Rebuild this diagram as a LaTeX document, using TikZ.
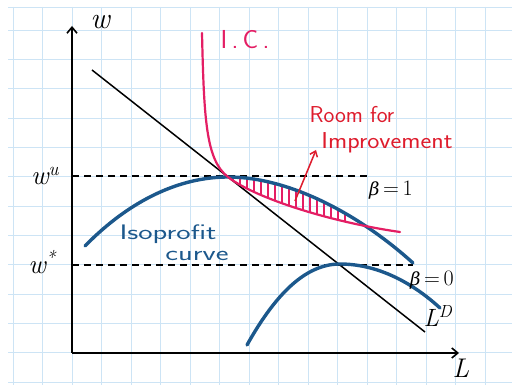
\documentclass[tikz,border=0pt]{standalone}
\usepackage{fontspec}
\newfontfamily\grk{DejaVu Serif}
\usetikzlibrary{arrows.meta}
\definecolor{gridblue}{RGB}{205,228,245}
\definecolor{isoblue}{RGB}{28,88,140}
\definecolor{icred}{RGB}{228,30,100}
\definecolor{txtred}{RGB}{222,28,45}
\tikzset{
  axis/.style={line width=1.6pt, -{Straight Barb[length=6pt,width=10pt]}},
  iso/.style={isoblue, line width=3.4pt, line cap=round},
  icurve/.style={icred, line width=2.2pt, line cap=round},
  dashline/.style={dash pattern=on 7pt off 5pt, line width=1.1pt},
  biglbl/.style={font=\itshape\fontsize{30}{32}\selectfont, inner sep=0pt},
  lbl/.style={font=\fontsize{22}{24}\selectfont, inner sep=0pt},
  redlbl/.style={txtred, font=\sffamily\fontsize{23}{25}\selectfont, inner sep=0pt},
  bluelbl/.style={isoblue, font=\sffamily\fontsize{21}{23}\selectfont, inner sep=0pt, xscale=1.45},
}
\newcommand{\betaglyph}{{\grk\itshape\fontsize{18}{20}\selectfont β}}
\begin{document}
\begin{tikzpicture}[x=1pt,y=-1pt]
\useasboundingbox (0,0) rectangle (515,385);
\fill[white] (0,0) rectangle (515,385);
% grid
\foreach \i in {0,...,16} {\draw[gridblue, line width=0.9pt] ({13+29.5*\i},7) -- ({13+29.5*\i},385);}
\foreach \j in {0,...,12} {\draw[gridblue, line width=0.9pt] (8,{30+29.35*\j}) -- (512,{30+29.35*\j});}
\draw[gridblue, line width=0.9pt] (8,7) -- (512,7);
% coordinates
\coordinate (O) at (72,353);
\coordinate (Ytop) at (72,26);
\coordinate (Xend) at (459,353);
\coordinate (T) at (228,177);
\coordinate (E) at (340,264);
% dashed lines
\coordinate (wu0) at (72,176);
\coordinate (wu1) at (368,176);
\coordinate (ws0) at (72,265);
\coordinate (ws1) at (413,265);
\draw[dashline] (wu0) -- (wu1);
\draw[dashline] (ws0) -- (ws1);
% axes
\draw[axis] (O) -- (Ytop);
\draw[axis] (O) -- (Xend);
% labor demand line
\coordinate (LD0) at (92,70);
\coordinate (LD1) at (425,332);
\draw[line width=1.5pt] (LD0) -- (LD1);
% hatching
\begin{scope}
\clip (T) .. controls (290,177) and (360,215) .. (413,263) -- (413,320) -- (228,320) -- cycle;
\clip (T) .. controls (255,198) and (330,222) .. (400,232) -- (400,140) -- (228,140) -- cycle;
\foreach \x in {233,240,...,346} {\draw[icred, line width=1.2pt] (\x,170) -- (\x,240);}
\end{scope}
% isoprofit curves
\draw[iso] (85,246) .. controls (130,200) and (180,177) .. (T) .. controls (290,177) and (360,215) .. (413,263);
\draw[iso] (247,345) .. controls (275,295) and (305,264) .. (E) .. controls (380,264) and (415,285) .. (440,308);
% indifference curve
\draw[icurve] (202,33) .. controls (204,120) and (206,160) .. (T) .. controls (255,198) and (330,222) .. (400,232);
% labels
\node[biglbl] (w) at (100,22) {w};
\node[biglbl, font=\itshape\fontsize{27}{29}\selectfont] (L) at (461,368) {L};
\node[biglbl, font=\itshape\fontsize{27}{29}\selectfont] (wu) at (45,176) {w\textsuperscript{u}};
\node[biglbl, font=\itshape\fontsize{27}{29}\selectfont] (wstar) at (42,262) {w\textsuperscript{*}};
\node[lbl] (b1) at (391,190) {\betaglyph\,=\,1};
\node[lbl] (b0) at (432,280) {\betaglyph\,=\,0};
\node[biglbl, font=\itshape\fontsize{25}{27}\selectfont] (LD) at (438,316) {L\textsuperscript{D}};
\node[icred, font=\sffamily\fontsize{26}{28}\selectfont, inner sep=0pt] (IC) at (245,40) {I\,.\,C\,.};
\node[redlbl] (room) at (352,115) {Room for};
\node[redlbl, xscale=1.12] (impr) at (387,143) {Improvement};
\node[bluelbl] (iso1) at (168,234) {Isoprofit};
\node[bluelbl] (iso2) at (197,256) {curve};
% arrow
\coordinate (a0) at (295,201);
\coordinate (a1) at (316,150);
\draw[txtred, line width=1.5pt, -{Straight Barb[length=5pt,width=8pt]}] (a0) -- (a1);
\end{tikzpicture}
\end{document}
